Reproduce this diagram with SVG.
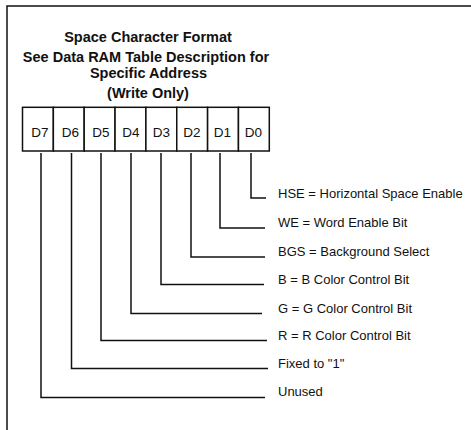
<svg xmlns="http://www.w3.org/2000/svg" width="471" height="430" viewBox="0 0 471 430">
<style>
.t{font-family:"Liberation Sans",Arial,sans-serif;fill:#111}
.h{font-weight:bold;font-size:14.5px;text-anchor:middle}
.c{font-size:13.5px;text-anchor:middle}
.l{font-size:13px}
.ln{fill:none;stroke:#111;stroke-width:1.5}
.cell{fill:#fff;stroke:#111;stroke-width:1.5}
</style>
<rect width="471" height="430" fill="#fff"/>
<g id="frame"><path class="ln" d="M7,430 V6 H471"/></g>
<g id="title">
<text class="t h" x="148" y="42">Space Character Format</text>
<text class="t h" x="146" y="62">See Data RAM Table Description for</text>
<text class="t h" x="148.5" y="77.5">Specific Address</text>
<text class="t h" x="148" y="98">(Write Only)</text>
</g>
<g id="D7"><rect class="cell" x="22.5" y="107.3" width="30.85" height="43.7"/><text class="t c" x="40" y="136.5">D7</text></g>
<g id="D6"><rect class="cell" x="53.35" y="107.3" width="30.85" height="43.7"/><text class="t c" x="70.5" y="136.5">D6</text></g>
<g id="D5"><rect class="cell" x="84.2" y="107.3" width="30.85" height="43.7"/><text class="t c" x="101" y="136.5">D5</text></g>
<g id="D4"><rect class="cell" x="115.05" y="107.3" width="30.85" height="43.7"/><text class="t c" x="131" y="136.5">D4</text></g>
<g id="D3"><rect class="cell" x="145.9" y="107.3" width="30.85" height="43.7"/><text class="t c" x="161.5" y="136.5">D3</text></g>
<g id="D2"><rect class="cell" x="176.75" y="107.3" width="30.85" height="43.7"/><text class="t c" x="192" y="136.5">D2</text></g>
<g id="D1"><rect class="cell" x="207.6" y="107.3" width="30.85" height="43.7"/><text class="t c" x="222.5" y="136.5">D1</text></g>
<g id="D0"><rect class="cell" x="238.45" y="107.3" width="30.85" height="43.7"/><text class="t c" x="253.5" y="136.5">D0</text></g>
<g id="connectors">
<path class="ln" d="M251,153 V198 H266"/>
<path class="ln" d="M220,153 V228 H265"/>
<path class="ln" d="M191,153 V257 H265"/>
<path class="ln" d="M161,153 V284.5 H264"/>
<path class="ln" d="M131,153 V313.5 H262"/>
<path class="ln" d="M101,153 V340.5 H267"/>
<path class="ln" d="M71.5,153 V368.5 H268"/>
<path class="ln" d="M41,153 V397.5 H265"/>
</g>
<g id="labels">
<text class="t l" x="278" y="198">HSE = Horizontal Space Enable</text>
<text class="t l" x="278" y="227">WE = Word Enable Bit</text>
<text class="t l" x="278" y="256">BGS = Background Select</text>
<text class="t l" x="278" y="284">B = B Color Control Bit</text>
<text class="t l" x="278" y="312.5">G = G Color Control Bit</text>
<text class="t l" x="278" y="340">R = R Color Control Bit</text>
<text class="t l" x="278" y="368">Fixed to "1"</text>
<text class="t l" x="278" y="396">Unused</text>
</g>
</svg>
